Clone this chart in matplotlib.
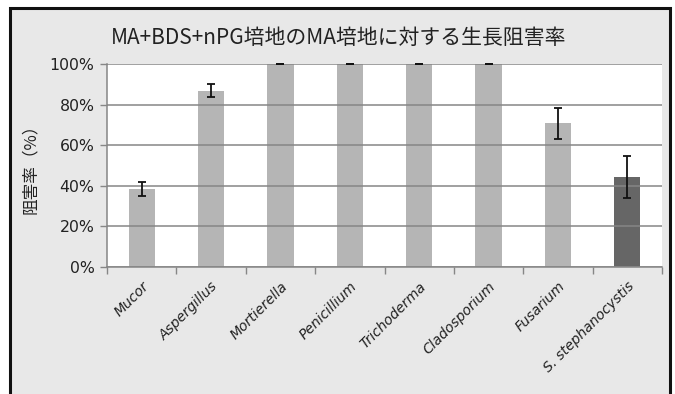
import matplotlib
matplotlib.use("Agg")
import matplotlib.pyplot as plt
from matplotlib.patches import Rectangle
import numpy as np

categories = ["Mucor", "Aspergillus", "Mortierella", "Penicillium",
              "Trichoderma", "Cladosporium", "Fusarium", "S. stephanocystis"]
values = [38.4, 86.8, 100, 100, 100, 100, 70.8, 44.4]
errors = [3.6, 3.2, 0, 0, 0, 0, 7.6, 10.5]
bar_colors = ["#b5b5b5"] * 7 + ["#666666"]
yticks = [0, 20, 40, 60, 80, 100]
ytick_labels = ["0%", "20%", "40%", "60%", "80%", "100%"]
title = "MA+BDS+nPG培地のMA培地に対する生長阻害率"
ylabel = "阻害率（%）"

plt.rcParams['font.family'] = ['DejaVu Sans', 'Noto Sans CJK JP']

W, H = 675, 394
fig = plt.figure(figsize=(W / 100, H / 100), dpi=100)
fig.patch.set_facecolor("white")

# outer frame
bg = Rectangle((10 / W, -0.05), (670 - 10) / W, (H - 7.5) / H + 0.05,
               transform=fig.transFigure, facecolor="#e8e8e8",
               edgecolor="#111111", linewidth=2.2, zorder=-10)
fig.patches.append(bg)

left, right, top, bottom = 107, 662, 64, 267
ax = fig.add_axes([left / W, 1 - bottom / H, (right - left) / W, (bottom - top) / H])
ax.set_facecolor("white")

x = np.arange(len(categories))
ax.bar(x, values, width=0.38, color=bar_colors, zorder=2)
ax.errorbar(x, values, yerr=errors, fmt="none", ecolor="#111111",
            elinewidth=1.3, capsize=3, capthick=1.3, zorder=3, clip_on=False)

ax.set_xlim(-0.5, len(categories) - 0.5)
ax.set_ylim(0, 100)
ax.set_yticks(yticks)
ax.set_yticklabels(ytick_labels, fontsize=11.3, color="#222222")
ax.yaxis.grid(True, color="#868686", linewidth=1.1, zorder=1)
ax.set_axisbelow(False)

ax.set_xticks(np.arange(len(categories) + 1) - 0.5)
ax.set_xticklabels([])
ax.set_xticks(x, minor=True)
ax.set_xticklabels(categories, minor=True, rotation=45, ha="right",
                   rotation_mode="anchor", fontsize=10, style="italic",
                   color="#222222")
ax.tick_params(axis="x", which="minor", length=0, pad=9)
ax.tick_params(axis="x", which="major", length=5, color="#868686", width=1)
ax.tick_params(axis="y", length=5, color="#868686", width=1, pad=4)

for s in ["top", "right"]:
    ax.spines[s].set_visible(False)
for s in ["left", "bottom"]:
    ax.spines[s].set_color("#868686")
    ax.spines[s].set_linewidth(1.1)

fig.text(339 / W, 1 - 38 / H, title, fontsize=15, ha="center", va="center",
         family=['Noto Sans CJK JP', 'DejaVu Sans'], color="#222222")
fig.text(30 / W, 1 - 165 / H, ylabel, fontsize=12, rotation=90,
         ha="center", va="center",
         family=['Noto Sans CJK JP', 'DejaVu Sans'], color="#222222")

fig.savefig("out.png", dpi=100, facecolor=fig.get_facecolor())
